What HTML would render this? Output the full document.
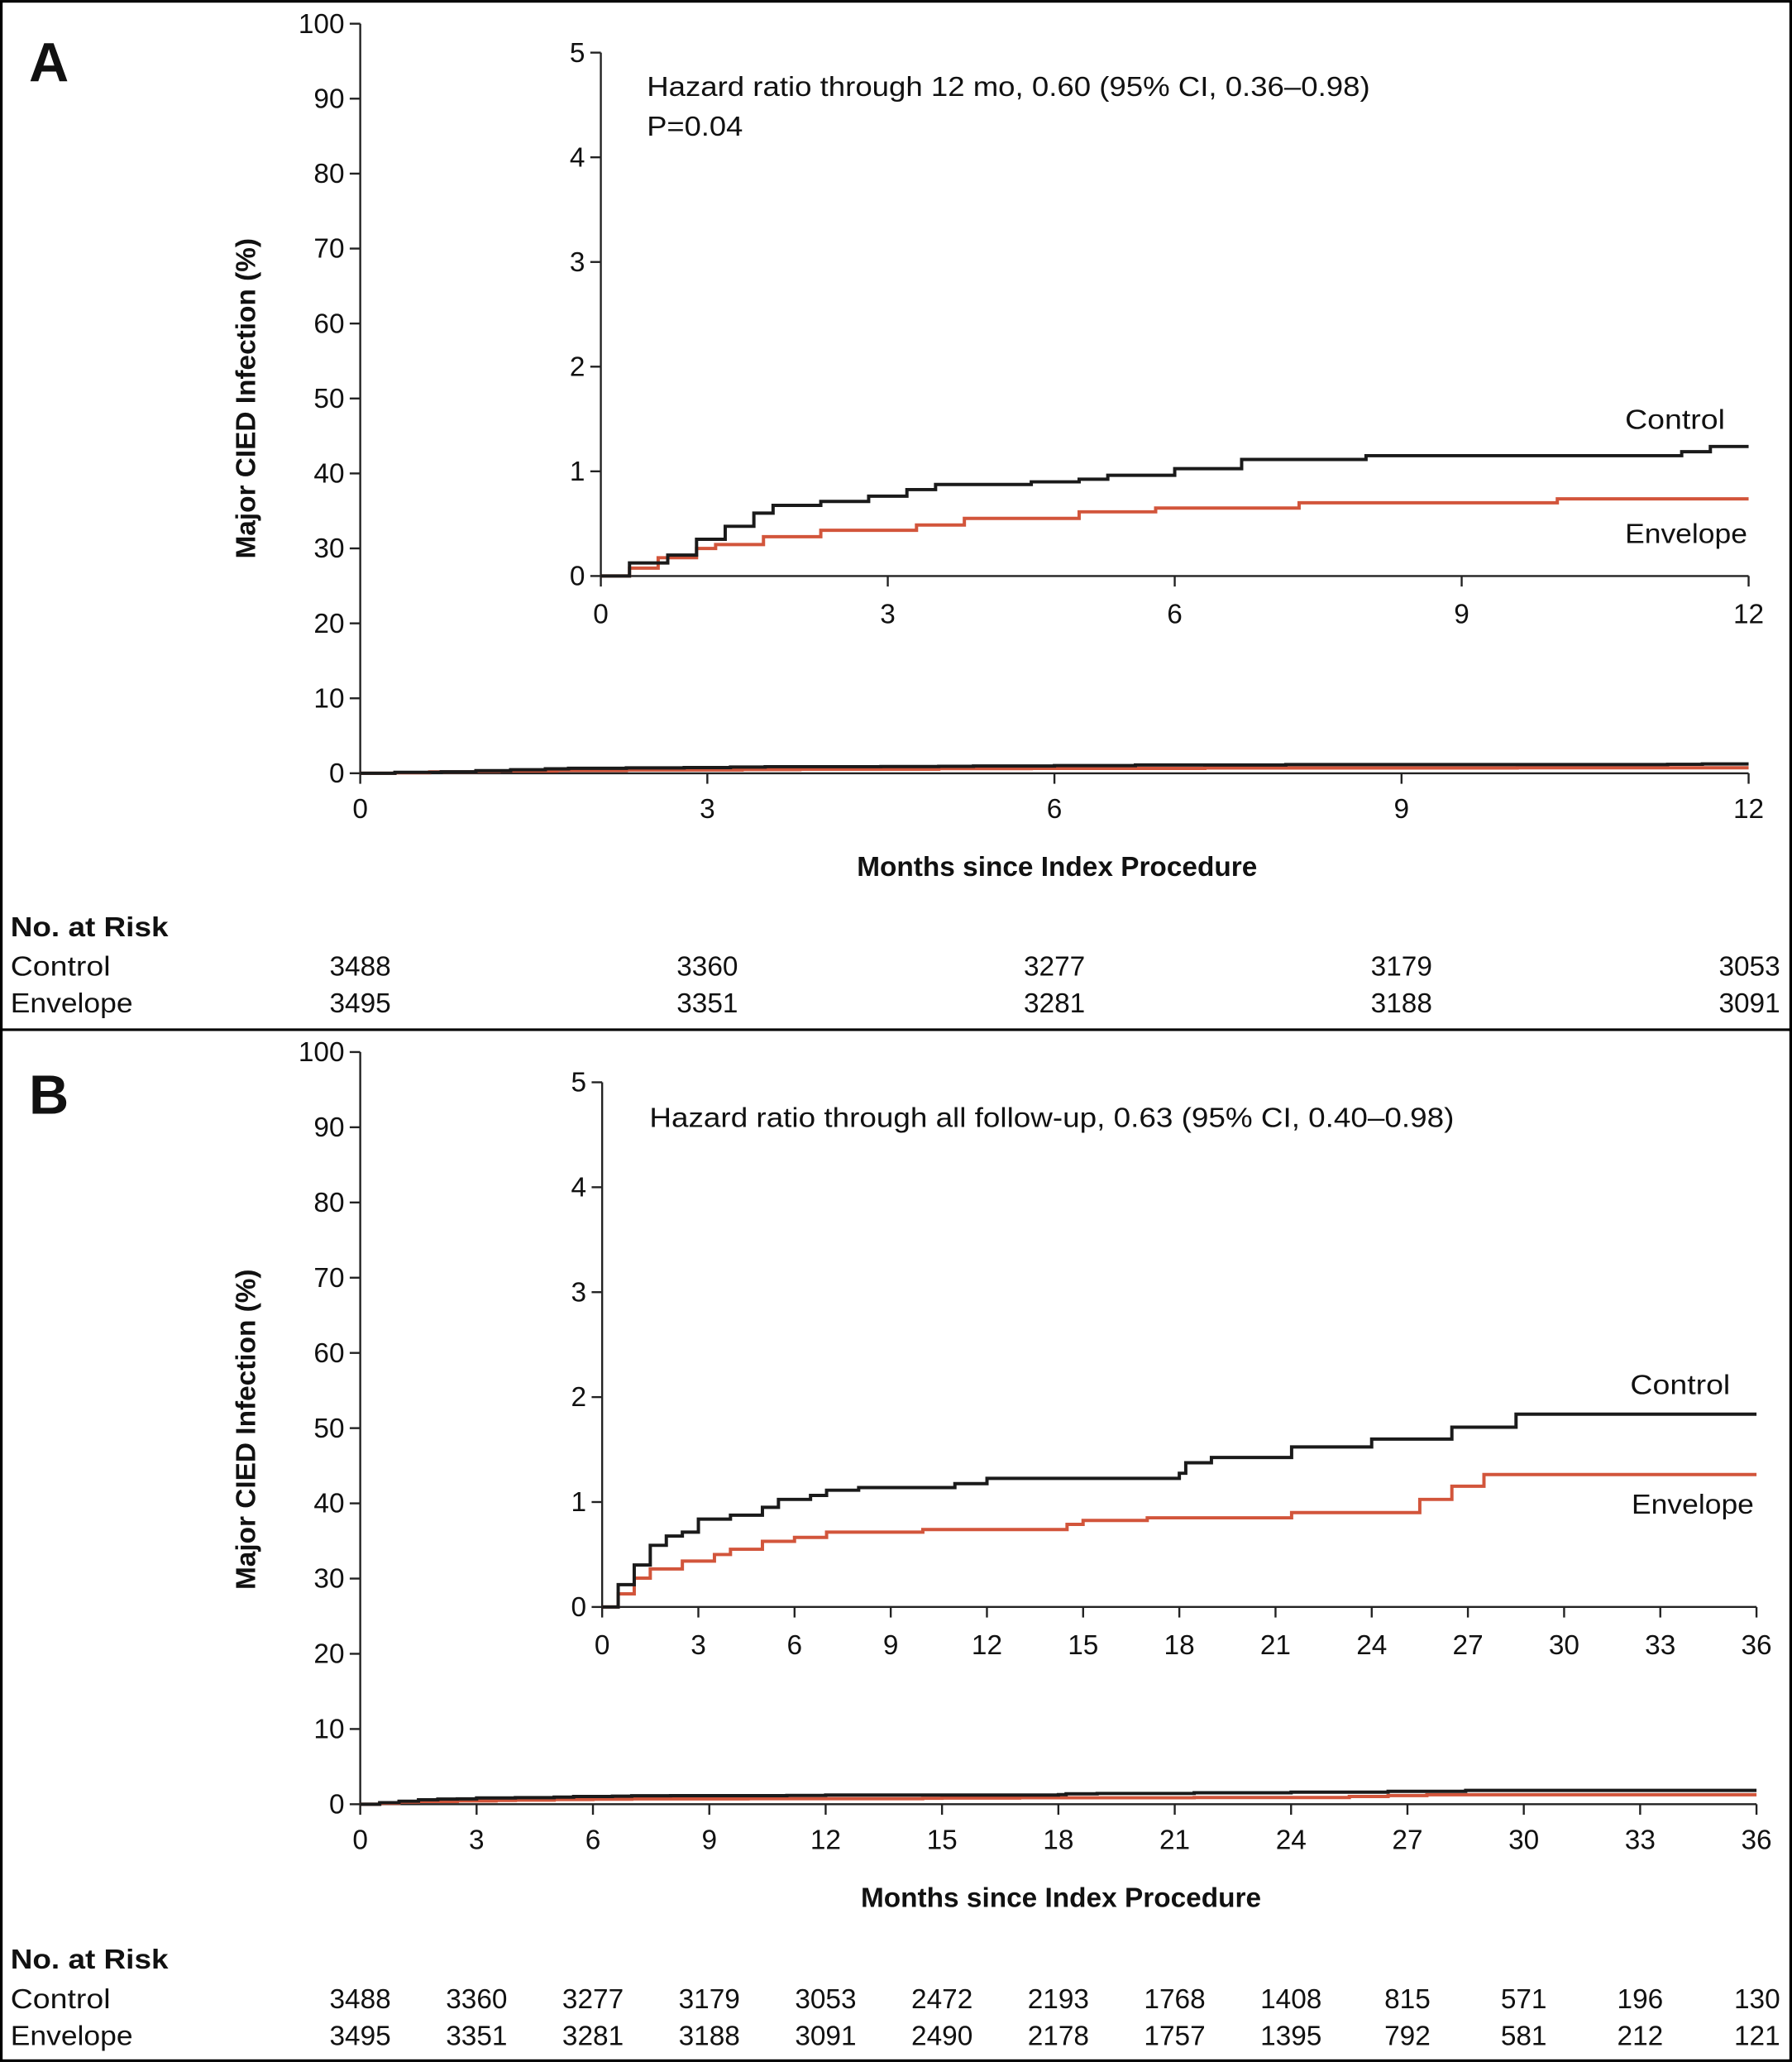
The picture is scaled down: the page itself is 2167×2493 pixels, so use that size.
<!DOCTYPE html>
<html><head><meta charset="utf-8"><style>
html,body{margin:0;padding:0;background:#fff}
svg{display:block}
text{font-family:"Liberation Sans",sans-serif;fill:#111}
.t{font-size:21px}
.b{font-weight:bold}
</style></head><body>
<svg id="s" width="2167" height="2493" viewBox="0 0 1363 1568" xmlns="http://www.w3.org/2000/svg">
<rect x="1" y="1" width="1361" height="1566" fill="none" stroke="#000" stroke-width="2"/>
<line x1="0" y1="783" x2="1363" y2="783" stroke="#000" stroke-width="2"/>
<g id="g"></g>
</svg>
<script>
const NS="http://www.w3.org/2000/svg",G=document.getElementById('g');
function el(n,a,t){const e=document.createElementNS(NS,n);for(const k in a)e.setAttribute(k,a[k]);if(t!==undefined)e.textContent=t;G.appendChild(e);return e;}
function txt(x,y,s,anchor,cls,extra){const a={x:x,y:y,'text-anchor':anchor||'middle',class:cls||'t'};if(extra)Object.assign(a,extra);return el('text',a,s);}
function line(x1,y1,x2,y2,w){el('line',{x1,y1,x2,y2,stroke:'#222','stroke-width':w||1.5});}
function step(pts,fx,fy,col,w){let d='M'+fx(0)+','+fy(0);for(const [m,v] of pts){d+=' H'+fx(m).toFixed(1)+' V'+fy(v).toFixed(1);}el('path',{d:d,fill:'none',stroke:col,'stroke-width':w||2.5});}
const BLK='#1a1a1a',RED='#d2553b';
function panel(oy,label,maxM,tickStep,main,inset,ctl,env,hr,pval,risk,ctlLbl,envLbl){
  const mx0=274,mx1=main.x1,my0=oy+main.y0,my100=oy+main.y100;
  line(mx0,my100,mx0,my0);line(mx0,my0,mx1,my0);
  for(let v=0;v<=100;v+=10){const y=my0-(my0-my100)*v/100;line(mx0-8,y,mx0,y);txt(mx0-12,y+7,String(v),'end');}
  const nT=maxM/tickStep;
  for(let i=0;i<=nT;i++){const x=mx0+(mx1-mx0)*i/nT;line(x,my0,x,my0+8);txt(x,my0+34,String(i*tickStep));}
  txt((mx0+mx1)/2+2,my0+78,'Months since Index Procedure','middle','t b',{'font-size':'26'});
  txt(0,0,'Major CIED Infection (%)','middle','t b',{'font-size':'25',transform:`translate(194,${oy+main.ylab}) rotate(-90)`});
  txt(22,oy+62,label,'start','b',{'font-size':'42'});
  const fxm=m=>mx0+(mx1-mx0)*m/maxM,fym=v=>my0-(my0-my100)*v/100;
  step(env,fxm,fym,RED,2.5);step(ctl,fxm,fym,BLK,2.5);
  const ix0=inset.x0,ix1=mx1,iy0=oy+inset.y0,iy5=oy+inset.y5;
  line(ix0,iy5,ix0,iy0);line(ix0,iy0,ix1,iy0);
  for(let v=0;v<=5;v++){const y=iy0-(iy0-iy5)*v/5;line(ix0-8,y,ix0,y);txt(ix0-12,y+7,String(v),'end');}
  const iT=inset.step;const nI=maxM/iT;
  for(let i=0;i<=nI;i++){const x=ix0+(ix1-ix0)*i/nI;line(x,iy0,x,iy0+8);txt(x,iy0+36,String(i*iT));}
  const fxi=m=>ix0+(ix1-ix0)*m/maxM,fyi=v=>iy0-(iy0-iy5)*v/5;
  step(env,fxi,fyi,RED,2.5);step(ctl,fxi,fyi,BLK,2.5);
  txt(hr[0],oy+hr[1],hr[2],'start','t',{'font-size':'22',textLength:hr[3],lengthAdjust:'spacingAndGlyphs'});
  if(pval)txt(hr[0],oy+hr[1]+30,pval,'start','t',{'font-size':'22',textLength:73,lengthAdjust:'spacingAndGlyphs'});
  txt(ctlLbl[0],oy+ctlLbl[1],'Control','start','t',{'font-size':'22',textLength:76,lengthAdjust:'spacingAndGlyphs'});
  txt(envLbl[0],oy+envLbl[1],'Envelope','start','t',{'font-size':'22',textLength:93,lengthAdjust:'spacingAndGlyphs'});
  txt(8,oy+712,'No. at Risk','start','t b',{'font-size':'23',textLength:120,lengthAdjust:'spacingAndGlyphs'});
  txt(8,oy+742,'Control','start','t',{'font-size':'22',textLength:76,lengthAdjust:'spacingAndGlyphs'});
  txt(8,oy+770,'Envelope','start','t',{'font-size':'22',textLength:93,lengthAdjust:'spacingAndGlyphs'});
  risk.forEach((row,r)=>row.forEach((n,i)=>{const x=mx0+(mx1-mx0)*i/nT;const last=i==row.length-1;txt(last?1354:x,oy+742+28*r,n,last?'end':'middle','t',{'font-size':'22'});}));
}
const v=y=>(438-y)/80, vb=y=>(1222-y)/80;
const ctlA=[[0.3,v(428)],[0.7,v(422)],[1.0,v(410)],[1.3,v(400)],[1.6,v(390)],[1.8,v(384)],[2.3,v(381)],[2.8,v(377)],[3.2,v(372)],[3.5,v(368)],[4.5,v(366)],[5.0,v(364)],[5.3,v(361)],[6.0,v(356)],[6.7,v(349)],[8,v(346)],[11.3,v(343)],[11.6,v(339)],[12,v(339)]];
const envA=[[0.3,v(432)],[0.6,v(424)],[1.0,v(417)],[1.2,v(414)],[1.7,v(408)],[2.3,v(403)],[3.3,v(399)],[3.8,v(394)],[5.0,v(389)],[5.8,v(386)],[7.3,v(382)],[10.0,v(379)],[12,v(379)]];
panel(0,'A',12,3,{x1:1330,y0:588,y100:18,ylab:303},{x0:457,y0:438,y5:40,step:3},ctlA,envA,[492,73,'Hazard ratio through 12 mo, 0.60 (95% CI, 0.36–0.98)',550],'P=0.04',
 [['3488','3360','3277','3179','3053'],['3495','3351','3281','3188','3091']],[1236,326],[1236,413]);
const ctlB=[[0.5,vb(1205)],[1,vb(1190)],[1.5,vb(1175)],[2,vb(1168)],[2.5,vb(1165)],[3,vb(1155)],[4,vb(1152)],[5,vb(1146)],[5.5,vb(1140)],[6.5,vb(1137)],[7,vb(1133)],[8,vb(1131)],[11,vb(1128)],[12,vb(1124)],[18,vb(1120)],[18.2,vb(1112)],[19,vb(1108)],[21.5,vb(1100)],[24,vb(1094)],[26.5,vb(1085)],[28.5,vb(1075)],[36,vb(1075)]];
const envB=[[0.5,vb(1212)],[1,vb(1200)],[1.5,vb(1193)],[2.5,vb(1187)],[3.5,vb(1182)],[4,vb(1178)],[5,vb(1172)],[6,vb(1169)],[7,vb(1165)],[10,vb(1163)],[14.5,vb(1159)],[15,vb(1156)],[17,vb(1154)],[21.5,vb(1150)],[25.5,vb(1140)],[26.5,vb(1130)],[27.5,vb(1121)],[36,vb(1121)]];
panel(785,'B',36,3,{x1:1336,y0:587,y100:15,ylab:302},{x0:458,y0:437,y5:38,step:3},ctlB,envB,[494,72,'Hazard ratio through all follow-up, 0.63 (95% CI, 0.40–0.98)',612],null,
 [['3488','3360','3277','3179','3053','2472','2193','1768','1408','815','571','196','130'],['3495','3351','3281','3188','3091','2490','2178','1757','1395','792','581','212','121']],[1240,275],[1241,366]);
</script>
</body></html>
